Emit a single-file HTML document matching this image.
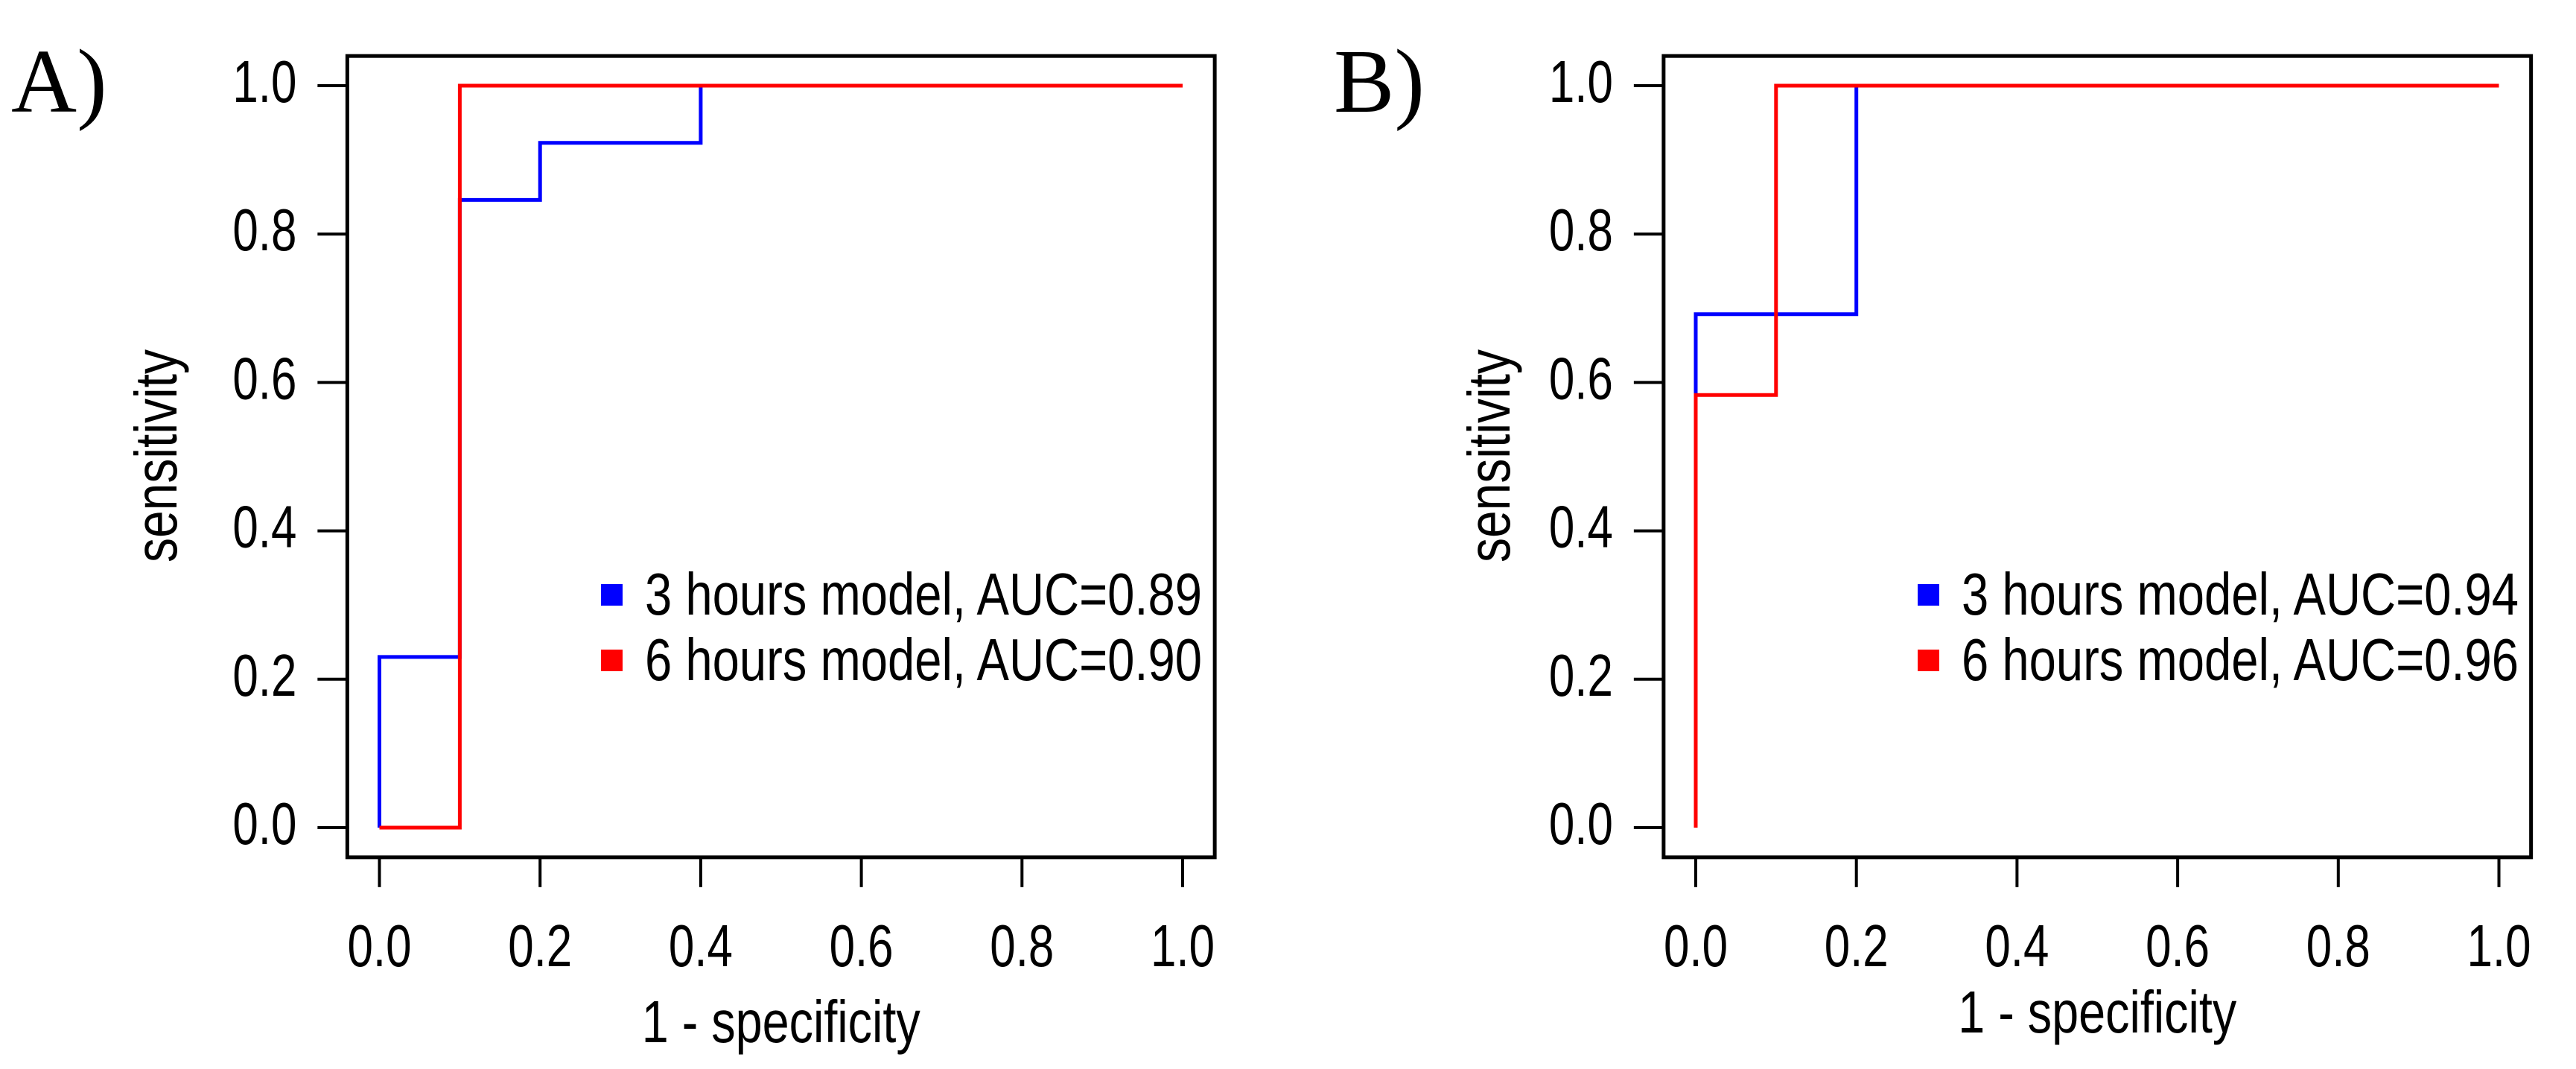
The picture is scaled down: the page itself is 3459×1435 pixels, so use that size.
<!DOCTYPE html>
<html><head><meta charset="utf-8"><style>
html,body{margin:0;padding:0;background:#fff}
svg{display:block}
</style></head><body>
<svg id="fig" width="3459" height="1435" viewBox="0 0 3459 1435" xmlns="http://www.w3.org/2000/svg" font-family="Liberation Sans, sans-serif"></svg>
<script>
// Panel A data
const aBlueX = [0, 0, 0.1, 0.1, 0.2, 0.2, 0.4, 0.4, 1];
const aBlueY = [0, 0.23, 0.23, 0.846, 0.846, 0.923, 0.923, 1, 1];
const aRedX = [0, 0.1, 0.1, 1];
const aRedY = [0, 0, 1, 1];
// Panel B data
const bBlueX = [0, 0, 0.2, 0.2, 1];
const bBlueY = [0, 0.692, 0.692, 1, 1];
const bRedX = [0, 0, 0.1, 0.1, 1];
const bRedY = [0, 0.583, 0.583, 1, 1];
const tickVals = [0, 0.2, 0.4, 0.6, 0.8, 1.0];
const tickLabels = ["0.0", "0.2", "0.4", "0.6", "0.8", "1.0"];
const legendA = ["3 hours model, AUC=0.89", "6 hours model, AUC=0.90"];
const legendB = ["3 hours model, AUC=0.94", "6 hours model, AUC=0.96"];

const NS = "http://www.w3.org/2000/svg";
const svg = document.getElementById('fig');
function mk(tag, attrs, parent, text) {
  const e = document.createElementNS(NS, tag);
  for (const k in attrs) e.setAttribute(k, attrs[k]);
  if (text !== undefined) e.textContent = text;
  (parent || svg).appendChild(e);
  return e;
}
const FS = 80;

function panel(id, x0px, letter, letterX, ylabX, legX, series, legend) {
  const g = mk('g', {});
  
  
  const X = v => x0px + v * 1078.5;
  const Y = v => 1111 - v * 996;
  const fr = mk('rect', {x: X(-0.04), y: Y(1.04), width: 1078.5 * 1.08, height: 996 * 1.08, fill: 'none', stroke: '#000', 'stroke-width': 5}, g);
  
  
  tickVals.forEach((v, i) => {
    const t = mk('line', {x1: X(-0.04) - 40, x2: X(-0.04), y1: Y(v), y2: Y(v), stroke: '#000', 'stroke-width': 4}, g);
    
    
    const tl = mk('text', {x: X(-0.04) - 154, y: Y(v) + 22, 'font-size': FS, textLength: 86, lengthAdjust: 'spacingAndGlyphs'}, g, tickLabels[i]);
    
    
    const tx = mk('line', {x1: X(v), x2: X(v), y1: Y(-0.04), y2: Y(-0.04) + 40, stroke: '#000', 'stroke-width': 4}, g);
    
    
    const xl = mk('text', {x: X(v) - 43, y: 1297, 'font-size': FS, textLength: 86, lengthAdjust: 'spacingAndGlyphs'}, g, tickLabels[i]);
    
    
  });
  const xt = mk('text', {x: X(0.5) - 187, y: id === 'a' ? 1399 : 1386, 'font-size': FS, textLength: 374, lengthAdjust: 'spacingAndGlyphs'}, g, '1 - specificity');
  
  
  const yt = mk('text', {x: -143, y: 0, 'font-size': FS, textLength: 286, lengthAdjust: 'spacingAndGlyphs', transform: `translate(${ylabX},612) rotate(-90)`}, g, 'sensitivity');
  
  
  const pl = mk('text', {x: letterX, y: 150, 'font-size': 122, 'font-family': 'Liberation Serif, serif'}, g, letter);
  
  
  series.forEach(s => {
    const pts = s.xs.map((x, i) => X(x).toFixed(1) + ',' + Y(s.ys[i]).toFixed(1)).join(' ');
    const p = mk('polyline', {points: pts, fill: 'none', stroke: s.color, 'stroke-width': 5}, g);
    
    
  });
  const colors = ['#0000ff', '#ff0000'];
  legend.forEach((txt, i) => {
    const cy = 798 + i * 88;
    const sq = mk('rect', {x: legX, y: cy - 14, width: 29, height: 29, fill: colors[i]}, g);
    
    
    const lt = mk('text', {x: legX + 59, y: cy + 27, 'font-size': FS, textLength: 748, lengthAdjust: 'spacingAndGlyphs'}, g, txt);
    
    
  });
}

panel('a', 509.5, 'A)', 15, 237, 807,
  [{xs: aBlueX, ys: aBlueY, color: '#0000ff', name: 'line-3-hours'},
   {xs: aRedX, ys: aRedY, color: '#ff0000', name: 'line-6-hours'}], legendA);
panel('b', 2277, 'B)', 1791, 2027, 2575,
  [{xs: bBlueX, ys: bBlueY, color: '#0000ff', name: 'line-3-hours'},
   {xs: bRedX, ys: bRedY, color: '#ff0000', name: 'line-6-hours'}], legendB);
</script>
</body></html>
